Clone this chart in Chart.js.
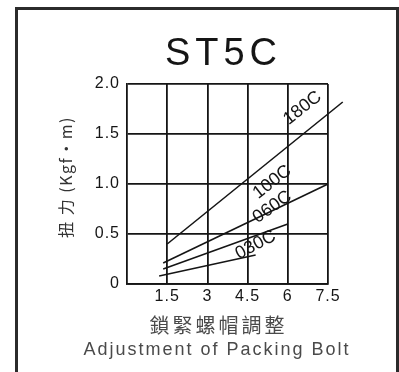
<!DOCTYPE html>
<html>
<head>
<meta charset="utf-8">
<script src="https://cdn.jsdelivr.net/npm/chart.js@4.4.1/dist/chart.umd.min.js"></script>
<style>
  html, body { margin: 0; padding: 0; background: #fff; overflow: hidden; }
  #wrap { position: relative; width: 399px; height: 372px; }
  #frame { position: absolute; left: 15px; top: 7px; width: 378px; height: 420px;
           border: 3px solid #2b2b2b; border-bottom: none; }
  canvas { position: absolute; left: 0; top: 0; }
</style>
</head>
<body>
<div id="wrap">
  <div id="frame"></div>
  <canvas id="chart" width="399" height="372"></canvas>
</div>
<script>
const model = 'ST5C';
const yTitle = '扭 力 (Kgf・m)';
const xTitleZh = '鎖緊螺帽調整';
const xTitleEn = 'Adjustment of Packing Bolt';

const xTicks = [1.5, 3, 4.5, 6, 7.5];
const yTicks = [0, 0.5, 1.0, 1.5, 2.0];

// packing sizes and their torque lines (end points)
const sizes = ['180C', '100C', '060C', '030C'];
const adjust180 = [1.5, 8.05];
const torque180 = [0.4, 1.82];
const adjust100 = [1.35, 7.5];
const torque100 = [0.21, 1.0];
const adjust060 = [1.35, 6.0];
const torque060 = [0.15, 0.6];
const adjust030 = [1.2, 4.8];
const torque030 = [0.08, 0.29];

const pts = (xs, ys) => xs.map((x, i) => ({ x: x, y: ys[i] }));
const lines = [
  pts(adjust180, torque180),
  pts(adjust100, torque100),
  pts(adjust060, torque060),
  pts(adjust030, torque030)
];

// where each size name sits along its line (data units) and its tilt
const tags = [
  { x: 6.55, y: 1.76, angle: -38 },
  { x: 5.42, y: 1.02, angle: -38 },
  { x: 5.42, y: 0.77, angle: -35 },
  { x: 4.8, y: 0.39, angle: -28 }
];

const INK = '#151515';

const annotate = {
  id: 'annotate',
  beforeDraw(chart) {
    chart.ctx.letterSpacing = '1px';
  },
  afterDraw(chart) {
    const { ctx, scales: { x, y } } = chart;
    ctx.save();
    ctx.textAlign = 'center';

    // heading
    ctx.fillStyle = INK;
    ctx.textBaseline = 'alphabetic';
    ctx.letterSpacing = '5px';
    ctx.font = '38px "Liberation Sans", Arial, sans-serif';
    ctx.fillText(model, 221 + 2.5, 65);

    // x axis titles
    ctx.fillStyle = '#4a4a4a';
    ctx.letterSpacing = '3px';
    ctx.font = '20px "Noto Sans CJK TC", sans-serif';
    ctx.fillText(xTitleZh, 217 + 1.5, 333);
    ctx.letterSpacing = '2px';
    ctx.font = '18px "Liberation Sans", Arial, sans-serif';
    ctx.fillText(xTitleEn, 216 + 1, 355);

    // y axis title
    ctx.save();
    ctx.translate(66, 177);
    ctx.rotate(-Math.PI / 2);
    ctx.textBaseline = 'middle';
    ctx.letterSpacing = '1.5px';
    ctx.font = '16px "Noto Sans CJK TC", sans-serif';
    ctx.fillStyle = '#333';
    ctx.fillText(yTitle, 0, 0);
    ctx.restore();

    // size tags along each line
    ctx.fillStyle = INK;
    ctx.letterSpacing = '0px';
    ctx.font = '18px "Liberation Sans", Arial, sans-serif';
    ctx.textBaseline = 'middle';
    sizes.forEach((name, i) => {
      const t = tags[i];
      ctx.save();
      ctx.translate(x.getPixelForValue(t.x), y.getPixelForValue(t.y));
      ctx.rotate(t.angle * Math.PI / 180);
      ctx.fillText(name, 0, 0);
      ctx.restore();
    });
    ctx.restore();
  }
};

const ctx = document.getElementById('chart').getContext('2d');

new Chart(ctx, {
  type: 'line',
  data: {
    datasets: sizes.map((name, i) => ({
      label: name,
      data: lines[i],
      borderColor: INK,
      borderWidth: 1.6,
      pointRadius: 0,
      tension: 0,
      clip: false
    }))
  },
  options: {
    responsive: false,
    animation: false,
    layout: { padding: { top: 84, right: 71, bottom: 0, left: 0 } },
    plugins: {
      legend: { display: false },
      tooltip: { enabled: false },
      title: { display: false }
    },
    scales: {
      x: {
        type: 'linear',
        min: 0,
        max: 7.5,
        afterBuildTicks: s => { s.ticks = xTicks.map(v => ({ value: v })); },
        afterFit: s => { s.height = 88; },
        grid: { color: INK, lineWidth: 1.8, drawTicks: false },
        border: { color: INK, width: 1.8 },
        ticks: {
          padding: 3,
          color: INK,
          font: { family: '"Liberation Sans", Arial, sans-serif', size: 16 },
          callback: v => String(v)
        }
      },
      y: {
        min: 0,
        max: 2,
        afterBuildTicks: s => { s.ticks = yTicks.map(v => ({ value: v })); },
        afterFit: s => { s.width = 127; },
        grid: { color: INK, lineWidth: 1.8, drawTicks: false },
        border: { color: INK, width: 1.8 },
        ticks: {
          padding: 7,
          color: INK,
          font: { family: '"Liberation Sans", Arial, sans-serif', size: 16 },
          callback: v => v === 0 ? '0' : v.toFixed(1)
        }
      }
    }
  },
  plugins: [annotate]
});
</script>
</body>
</html>
